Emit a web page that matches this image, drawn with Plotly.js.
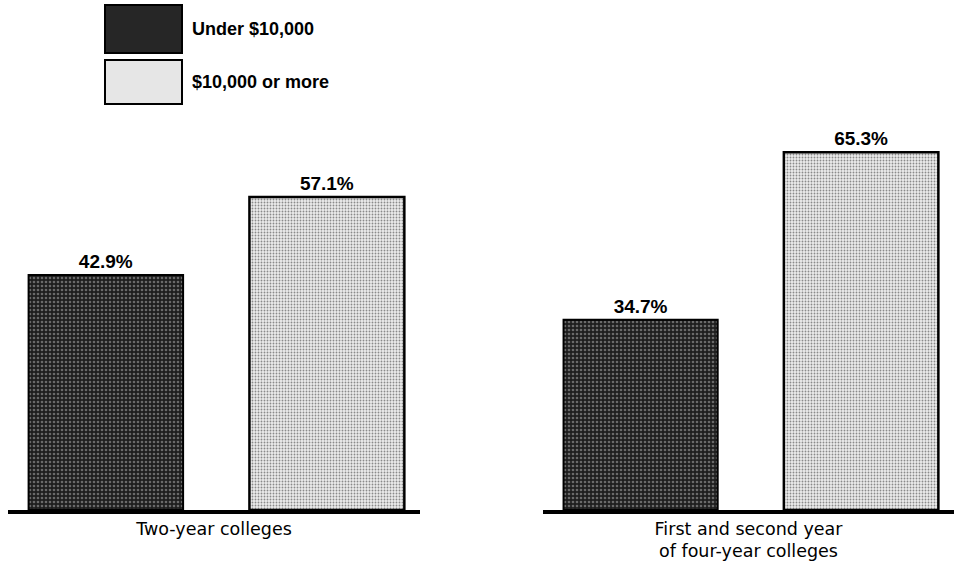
<!DOCTYPE html>
<html>
<head>
<meta charset="utf-8">
<script src="https://cdn.plot.ly/plotly-3.0.1.min.js"></script>
<style>
  html, body { margin: 0; padding: 0; background: #fff; }
  #chart { width: 954px; height: 561px; }
</style>
</head>
<body>
<div id="chart"></div>
<script>
// Share of students by family income, per college type
const groups = ["Two-year colleges", "First and second year<br>of four-year colleges"];
const seriesNames = ["Under $10,000", "$10,000 or more"];
const underTenThousand = [42.9, 34.7];
const tenThousandOrMore = [57.1, 65.3];

const darkFill = {
  color: "#222",
  line: { color: "#000", width: 2 },
  pattern: { shape: ".", fgcolor: "#6a6a6a", bgcolor: "#1e1e1e", size: 4, solidity: 0.35 }
};
const lightFill = {
  color: "#dcdcdc",
  line: { color: "#000", width: 2.5 },
  pattern: { shape: ".", fgcolor: "#8a8a8a", bgcolor: "#ececec", size: 3, solidity: 0.3 }
};

const labelFont = { family: "Liberation Sans, Arial, sans-serif", size: 19, color: "#000", weight: "bold" };

const axes = ["x", "x2"];
const traces = [];
groups.forEach((g, i) => {
  traces.push({
    type: "bar", name: seriesNames[0], xaxis: axes[i], yaxis: "y",
    x: [g], y: [underTenThousand[i]],
    width: 0.375, offset: -0.45,
    marker: darkFill,
    texttemplate: "%{y:.1f}%", textposition: "outside", cliponaxis: false,
    textfont: labelFont
  });
  traces.push({
    type: "bar", name: seriesNames[1], xaxis: axes[i], yaxis: "y",
    x: [g], y: [tenThousandOrMore[i]],
    width: 0.376, offset: 0.086,
    marker: lightFill,
    texttemplate: "%{y:.1f}%", textposition: "outside", cliponaxis: false,
    textfont: labelFont
  });
});

const catAxis = (domain) => ({
  domain: domain,
  type: "category",
  range: [-0.5, 0.5],
  anchor: "y",
  showline: true, linewidth: 3.5, linecolor: "#000",
  showgrid: false, zeroline: false, ticks: "",
  tickfont: { family: "DejaVu Sans, Arial, sans-serif", size: 17.5, color: "#000" },
  fixedrange: true, automargin: false
});

// Legend swatches drawn as shapes, with their captions as annotations
const legendFont = { family: "Liberation Sans, Arial, sans-serif", size: 18, color: "#000", weight: "bold" };

const layout = {
  width: 954, height: 561,
  margin: { l: 0, r: 0, t: 0, b: 51, pad: 0 },
  paper_bgcolor: "#fff", plot_bgcolor: "#fff",
  showlegend: false,
  barmode: "overlay",
  xaxis: catAxis([8 / 954, 420 / 954]),
  xaxis2: catAxis([543 / 954, 1]),
  yaxis: { range: [0, 93.07], visible: false, fixedrange: true },
  shapes: [
    { type: "rect", xref: "paper", yref: "paper",
      x0: 105 / 954, x1: 182 / 954, y0: 1 - 53 / 510, y1: 1 - 5 / 510,
      fillcolor: "#262626", line: { color: "#000", width: 2 } },
    { type: "rect", xref: "paper", yref: "paper",
      x0: 105 / 954, x1: 182 / 954, y0: 1 - 104 / 510, y1: 1 - 60 / 510,
      fillcolor: "#e6e6e6", line: { color: "#000", width: 2 } }
  ],
  annotations: [
    { xref: "paper", yref: "paper", x: 190 / 954, y: 1 - 29 / 510,
      xanchor: "left", yanchor: "middle", showarrow: false,
      text: seriesNames[0], font: legendFont },
    { xref: "paper", yref: "paper", x: 190 / 954, y: 1 - 82 / 510,
      xanchor: "left", yanchor: "middle", showarrow: false,
      text: seriesNames[1], font: legendFont }
  ]
};

Plotly.newPlot("chart", traces, layout, { staticPlot: true, displayModeBar: false });
</script>
</body>
</html>
